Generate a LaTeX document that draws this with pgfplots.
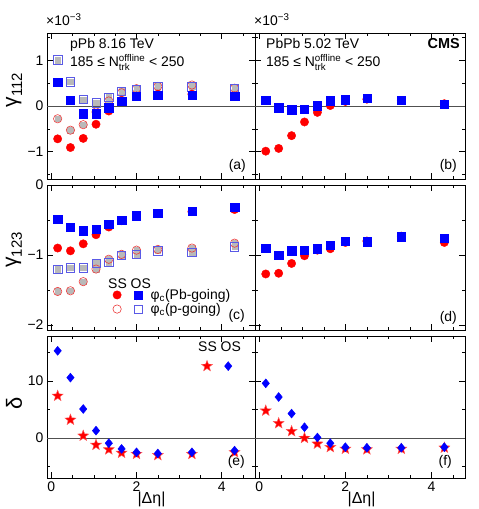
\documentclass[border=0pt]{standalone}
\usepackage{fontspec}
\setmainfont{Liberation Sans}
\usepackage{amsmath}
\usepackage{pgfplots}
\pgfplotsset{compat=1.18}
\usepackage{pgfplotstable}

\definecolor{cred}{RGB}{255,0,0}
\definecolor{cblue}{RGB}{0,0,255}
\definecolor{oblue}{RGB}{90,90,230}
\definecolor{ored}{RGB}{235,60,60}
\definecolor{gfill}{RGB}{185,185,185}
\definecolor{zline}{RGB}{80,80,80}

\pgfdeclareplotmark{fstar}{%
 \pgfpathmoveto{\pgfpointpolar{90}{\pgfplotmarksize}}%
 \pgfpathlineto{\pgfpointpolar{126}{0.42\pgfplotmarksize}}%
 \pgfpathlineto{\pgfpointpolar{162}{\pgfplotmarksize}}%
 \pgfpathlineto{\pgfpointpolar{198}{0.42\pgfplotmarksize}}%
 \pgfpathlineto{\pgfpointpolar{234}{\pgfplotmarksize}}%
 \pgfpathlineto{\pgfpointpolar{270}{0.42\pgfplotmarksize}}%
 \pgfpathlineto{\pgfpointpolar{306}{\pgfplotmarksize}}%
 \pgfpathlineto{\pgfpointpolar{342}{0.42\pgfplotmarksize}}%
 \pgfpathlineto{\pgfpointpolar{18}{\pgfplotmarksize}}%
 \pgfpathlineto{\pgfpointpolar{54}{0.42\pgfplotmarksize}}%
 \pgfpathclose
 \pgfusepathqfillstroke
}

% gamma112, pPb
\pgfplotstableread{
x    ssPb   osPb   ssp    osp
0.15 -0.72  0.52  -0.28   1.01
0.45 -0.91  0.13  -0.53   0.53
0.75 -0.71 -0.17  -0.41   0.14
1.05 -0.40 -0.17  -0.13   0.07
1.35 -0.11 -0.04   0.11   0.19
1.65  0.12  0.11   0.29   0.32
2.0   0.22  0.21   0.38   0.37
2.5   0.26  0.24   0.43   0.42
3.3   0.26  0.24   0.46   0.42
4.3   0.22  0.21   0.39   0.39
}\tabA
% gamma112, PbPb
\pgfplotstableread{
x    ss     os
0.15 -0.99  0.13
0.45 -0.93 -0.04
0.75 -0.65 -0.08
1.05 -0.35 -0.07
1.35 -0.14  0.01
1.65  0.01  0.12
2.0   0.10  0.14
2.5   0.15  0.17
3.3   0.12  0.13
4.3   0.05  0.04
}\tabB
% gamma123, pPb
\pgfplotstableread{
x    ssPb   osPb   ssp    osp
0.15 -0.90 -0.49  -1.52  -1.20
0.45 -0.94 -0.60  -1.51  -1.18
0.75 -0.84 -0.65  -1.38  -1.18
1.05 -0.71 -0.63  -1.20  -1.12
1.35 -0.60 -0.56  -1.06  -1.10
1.65 -0.51 -0.50  -0.99  -1.00
2.0  -0.45 -0.44  -0.93  -0.99
2.5  -0.41 -0.40  -0.92  -0.94
3.3  -0.38 -0.37  -0.90  -0.96
4.3  -0.35 -0.32  -0.83  -0.88
}\tabC
% gamma123, PbPb
\pgfplotstableread{
x    ss     os
0.15 -1.27 -0.90
0.45 -1.26 -1.00
0.75 -1.12 -0.94
1.05 -1.01 -0.93
1.35 -0.93 -0.91
1.65 -0.91 -0.86
2.0  -0.82 -0.80
2.5  -0.80 -0.81
3.3  -0.73 -0.74
4.3  -0.82 -0.76
}\tabD
% delta, pPb
\pgfplotstableread{
x    ss    os
0.15  7.4  15.3
0.45  3.2  10.6
0.75  0.4   5.1
1.05 -1.2   1.3
1.35 -2.0  -0.9
1.65 -2.6  -1.9
2.0  -2.8  -2.5
2.5  -3.0  -2.7
3.3  -2.8  -2.5
4.3  -2.5  -2.2
}\tabE
% delta, PbPb
\pgfplotstableread{
x    ss    os
0.15  4.8   9.6
0.45  2.6   7.2
0.75  1.2   4.3
1.05  0.0   1.9
1.35 -1.0   0.1
1.65 -1.6  -0.9
2.0  -1.9  -1.6
2.5  -2.0  -1.7
3.3  -1.9  -1.7
4.3  -1.7  -1.6
}\tabF

\pgfplotsset{
  panel/.style={
    scale only axis, anchor=south west,
    xmin=-0.1, xmax=4.78,
    xtick={0,2,4}, minor xtick={0.5,1,1.5,2.5,3,3.5,4.5},
    tick align=inside,
    major tick length=6bp, minor tick length=3bp,
    every tick/.style={black, line width=0.6pt},
    axis line style={line width=0.8pt},
    tick label style={font=\fontsize{14}{16}\selectfont},
    clip=false,
    legend image code/.code={\draw[##1] plot coordinates {(0bp,0bp)};},
  },
  ssPb/.style={only marks, mark=*, cred, mark size=4.2pt},
  osPb/.style={only marks, mark=square*, cblue, mark size=4.2pt},
  ssp/.style={only marks, mark=o, ored, mark size=4.2pt, line width=0.6pt},
  osp/.style={only marks, mark=square, oblue, mark size=4.2pt, line width=0.6pt},
  gsq/.style={only marks, mark=square*, gfill, mark size=2.8pt, forget plot},
  ssd/.style={only marks, mark=fstar, mark size=5.8pt, mark options={fill=cred, draw=red!65!white, line width=0.4pt}},
  osd/.style={only marks, mark=diamond*, cblue, mark size=4.5pt, mark options={xscale=1.1}},
  zl/.style={zline, line width=0.6pt, forget plot},
}

\begin{document}
\begin{tikzpicture}
\path[use as bounding box] (0bp,0bp) rectangle (479bp,509bp);

% ---------- (a)
\begin{axis}[panel, at={(47bp,330bp)}, width=208bp, height=146bp,
  ymin=-1.6, ymax=1.6, ytick={-1,0,1}, yticklabels={−1,0,1},
  minor ytick={-1.5,-0.5,0.5,1.5}, xticklabels={}]
\addplot[zl] coordinates {(-0.1,0) (4.78,0)};
\addplot[gsq] table[x=x,y=ssp] {\tabA};
\addplot[gsq] table[x=x,y=osp] {\tabA};
\addplot[ssp, forget plot] table[x=x,y=ssp] {\tabA};
\addplot[osp, forget plot] table[x=x,y=osp] {\tabA};
\addplot[ssPb, forget plot] table[x=x,y=ssPb] {\tabA};
\addplot[osPb, forget plot] table[x=x,y=osPb] {\tabA};
\end{axis}

% ---------- (b)
\begin{axis}[panel, at={(255bp,330bp)}, width=210bp, height=146bp,
  ymin=-1.6, ymax=1.6, ytick={-1,0,1}, yticklabels={},
  minor ytick={-1.5,-0.5,0.5,1.5}, xticklabels={}]
\addplot[zl] coordinates {(-0.1,0) (4.78,0)};
\addplot[ssPb, forget plot] table[x=x,y=ss] {\tabB};
\addplot[osPb, forget plot] table[x=x,y=os] {\tabB};
\end{axis}

% ---------- (c)
\begin{axis}[panel, at={(47bp,179bp)}, width=208bp, height=145bp,
  ymin=-2.07, ymax=0, ytick={-2,-1,0}, yticklabels={−2,−1,0},
  minor ytick={-1.5,-0.5}, xticklabels={},
  legend columns=2,
  legend style={draw=none, fill=none, at={(0.316,0.29)}, anchor=north west,
    inner sep=0pt, row sep=0.5bp, font=\fontsize{14}{16}\selectfont,
    nodes={inner sep=1bp},
    /tikz/every odd column/.append style={column sep=7bp},
    /tikz/every even column/.append style={column sep=4bp}},
  legend cell align=left]
\addlegendimage{ssPb}\addlegendentry{}
\addlegendimage{osPb}\addlegendentry{φ\textsubscript{c}(Pb-going)}
\addlegendimage{ssp}\addlegendentry{}
\addlegendimage{osp}\addlegendentry{φ\textsubscript{c}(p-going)}
\addplot[gsq] table[x=x,y=ssp] {\tabC};
\addplot[gsq] table[x=x,y=osp] {\tabC};
\addplot[ssp, forget plot] table[x=x,y=ssp] {\tabC};
\addplot[osp, forget plot] table[x=x,y=osp] {\tabC};
\addplot[ssPb, forget plot] table[x=x,y=ssPb] {\tabC};
\addplot[osPb, forget plot] table[x=x,y=osPb] {\tabC};
\end{axis}

% ---------- (d)
\begin{axis}[panel, at={(255bp,179bp)}, width=210bp, height=145bp,
  ymin=-2.07, ymax=0, ytick={-2,-1,0}, yticklabels={},
  minor ytick={-1.5,-0.5}, xticklabels={}]
\addplot[ssPb, forget plot] table[x=x,y=ss] {\tabD};
\addplot[osPb, forget plot] table[x=x,y=os] {\tabD};
\end{axis}

% ---------- (e)
\begin{axis}[panel, at={(47bp,31bp)}, width=208bp, height=142bp,
  ymin=-7, ymax=17.9, ytick={0,10}, yticklabels={0,10},
  minor ytick={-5,5,15}, xticklabels={0,2,4},
  legend columns=2,
  legend style={draw=none, fill=none, at={(0.742,0.83)}, anchor=north west,
    inner sep=0pt, nodes={inner sep=1bp},
    /tikz/every even column/.append style={column sep=10bp}}]
\addlegendimage{ssd}\addlegendentry{}
\addlegendimage{osd}\addlegendentry{}
\addplot[zl] coordinates {(-0.1,0) (4.78,0)};
\addplot[ssd, forget plot] table[x=x,y=ss] {\tabE};
\addplot[osd, forget plot] table[x=x,y=os] {\tabE};
\end{axis}

% ---------- (f)
\begin{axis}[panel, at={(255bp,31bp)}, width=210bp, height=142bp,
  ymin=-7, ymax=17.9, ytick={0,10}, yticklabels={},
  minor ytick={-5,5,15}, xticklabels={0,2,4}]
\addplot[zl] coordinates {(-0.1,0) (4.78,0)};
\addplot[ssd, forget plot] table[x=x,y=ss] {\tabF};
\addplot[osd, forget plot] table[x=x,y=os] {\tabF};
\end{axis}

% ---------- texts
\begin{scope}[every node/.style={font=\fontsize{14}{16}\selectfont, inner sep=0pt}]
\node[anchor=base west] at (46bp,483bp) {×10\textsuperscript{−3}};
\node[anchor=base west] at (254bp,483bp) {×10\textsuperscript{−3}};
\node[anchor=base west] at (70bp,460.3bp) {pPb 8.16 TeV};
\node[anchor=base west] at (70bp,442.3bp) {185 ≤ N$^{\text{offline}}_{\text{trk}}$ < 250};
\node[anchor=base west] at (266bp,460.3bp) {PbPb 5.02 TeV};
\node[anchor=base west] at (266bp,442.3bp) {185 ≤ N$^{\text{offline}}_{\text{trk}}$ < 250};
\node[anchor=base east, font=\fontsize{14.5}{16}\selectfont\bfseries] at (460bp,460.3bp) {CMS};
\node[anchor=base east] at (246bp,339.5bp) {(a)};
\node[anchor=base east] at (457bp,339.5bp) {(b)};
\node[anchor=base east] at (245bp,189.5bp) {(c)};
\node[anchor=base east] at (457bp,187bp) {(d)};
\node[anchor=base east] at (245bp,43bp) {(e)};
\node[anchor=base east] at (452bp,43bp) {(f)};
\node[anchor=base west] at (108bp,220.7bp) {SS OS};
\node[anchor=base west] at (198bp,157.3bp) {SS OS};
\node[anchor=base] at (151.5bp,5.5bp) {\fontsize{16}{18}\selectfont |Δη|};
\node[anchor=base] at (361.5bp,5.5bp) {\fontsize{16}{18}\selectfont |Δη|};
\node[rotate=90] at (14bp,419bp) {\fontsize{21}{24}\selectfont γ\raisebox{-5bp}{\fontsize{15}{16}\selectfont 112}};
\node[rotate=90] at (14bp,259bp) {\fontsize{21}{24}\selectfont γ\raisebox{-5bp}{\fontsize{15}{16}\selectfont 123}};
\node[rotate=90] at (14bp,106bp) {\fontsize{22}{24}\selectfont δ};
\end{scope}
\end{tikzpicture}
\end{document}
